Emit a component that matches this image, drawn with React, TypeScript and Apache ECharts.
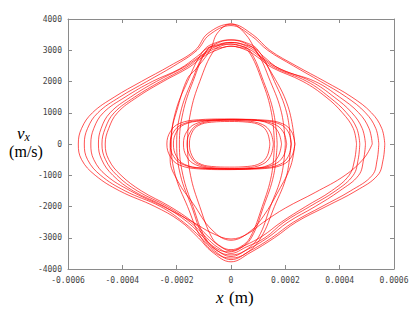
import React, { useEffect, useRef } from "react";
import * as echarts from "echarts";

// x positions in units of 1e-4 m, velocities in m/s
const xTicks = [-0.0006, -0.0004, -0.0002, 0, 0.0002, 0.0004, 0.0006];
const vTicks = [-4000, -3000, -2000, -1000, 0, 1000, 2000, 3000, 4000];

const diamond1 = [[5.66,0],[5.55,500],[5.17,1000],[4.45,1500],[3.46,2000],[2.4,2500],[1.43,3000],[0.8,3500],[0,3840],[-0.85,3540],[-1.32,3000],[-2.25,2500],[-3.3,2000],[-4.3,1500],[-5.1,1000],[-5.5,500],[-5.62,0],[-5.5,-500],[-5.0,-1000],[-4.1,-1500],[-2.8,-2000],[-1.9,-2450],[-1.2,-3000],[-0.7,-3450],[0,-3770],[0.7,-3480],[1.6,-3000],[2.4,-2500],[3.5,-2000],[4.6,-1500],[5.4,-1000],[5.6,-500],[5.66,0]];
const diamond2 = [[5.44,0],[5.33,500],[4.95,1000],[4.25,1500],[3.3,2000],[2.3,2500],[1.35,3000],[0.75,3460],[0,3790],[-0.8,3490],[-1.25,3000],[-2.1,2500],[-3.1,2000],[-4.1,1500],[-4.9,1000],[-5.28,500],[-5.4,0],[-5.28,-500],[-4.8,-1000],[-3.9,-1500],[-2.6,-2000],[-1.75,-2500],[-1.1,-3000],[-0.6,-3420],[0,-3700],[0.7,-3420],[1.5,-3000],[2.3,-2500],[3.35,-2000],[4.4,-1500],[5.2,-1000],[5.38,-500],[5.44,0]];
const diamond3 = [[5.2,0],[5.08,500],[4.7,1000],[4.0,1500],[3.1,2000],[1.8,2400],[1.2,2800],[0.8,3100],[0,3330],[-0.8,3100],[-1.25,2800],[-1.9,2400],[-2.9,2000],[-3.9,1500],[-4.7,1000],[-5.05,500],[-5.16,0],[-5.05,-500],[-4.6,-1000],[-3.7,-1500],[-2.5,-2000],[-1.4,-2500],[-0.7,-2850],[0,-3040],[0.6,-2880],[1.2,-2500],[2.0,-2050],[3.1,-1550],[4.2,-1000],[4.9,-450],[5.2,0]];
const diamond4 = [[4.95,0],[4.83,500],[4.45,1000],[3.8,1500],[2.95,2000],[1.7,2450],[1.1,2800],[0.7,3080],[0,3250],[-0.7,3060],[-1.15,2800],[-1.75,2450],[-2.75,2000],[-3.7,1500],[-4.45,1000],[-4.78,500],[-4.88,0],[-4.76,-500],[-4.35,-1000],[-3.6,-1500],[-2.45,-2000],[-1.6,-2500],[-1.0,-3000],[-0.55,-3380],[0,-3600],[0.6,-3380],[1.35,-3000],[2.1,-2500],[3.1,-2000],[4.0,-1500],[4.7,-1000],[4.88,-500],[4.95,0]];
const diamond5 = [[4.74,0],[4.63,500],[4.25,1000],[3.62,1500],[2.8,2000],[1.6,2450],[1.05,2800],[0.65,3040],[0,3200],[-0.65,3030],[-1.1,2800],[-1.65,2450],[-2.6,2000],[-3.55,1500],[-4.3,1000],[-4.63,500],[-4.75,0],[-4.62,-500],[-4.2,-1000],[-3.45,-1500],[-2.35,-2000],[-1.5,-2500],[-0.9,-3000],[-0.5,-3300],[0,-3500],[0.55,-3300],[1.25,-3000],[1.95,-2500],[2.9,-2000],[3.85,-1500],[4.5,-1000],[4.68,-500],[4.74,0]];
const diamond6 = [[4.62,0],[4.5,500],[4.1,1000],[3.5,1500],[2.65,2000],[1.5,2450],[0.98,2780],[0.6,2990],[0,3130],[-0.6,2980],[-1.05,2780],[-1.55,2450],[-2.5,2000],[-3.45,1500],[-4.18,1000],[-4.5,500],[-4.63,0],[-4.5,-500],[-4.05,-1000],[-3.3,-1500],[-2.25,-2000],[-1.4,-2500],[-0.85,-2950],[-0.45,-3250],[0,-3420],[0.5,-3250],[1.15,-2950],[1.85,-2500],[2.75,-2000],[3.7,-1500],[4.35,-1000],[4.55,-500],[4.62,0]];

const vertical0 = [[2.35,0],[2.1,1200],[1.43,2370],[0.95,2950],[0.5,3550],[0,3840],[-0.5,3550],[-0.77,3000],[-1.32,2370],[-1.6,2100],[-1.95,1200],[-2.2,300],[-2.24,-500],[-1.95,-1200],[-1.4,-1900],[-0.7,-2750],[0,-3080],[0.7,-2800],[1.2,-2300],[1.75,-1500],[2.2,-700],[2.35,0]];
const vertical1 = [[2.2,0],[2.05,1000],[1.6,2000],[1.0,3000],[0.5,3260],[0,3330],[-0.5,3260],[-1.0,3000],[-1.6,2000],[-2.05,1000],[-2.2,0],[-2.05,-1000],[-1.6,-2000],[-1.1,-3000],[-0.55,-3500],[0,-3650],[0.55,-3500],[1.1,-3000],[1.6,-2000],[2.05,-1000],[2.2,0]];
const vertical2 = [[2.0,0],[1.86,1000],[1.45,2000],[0.9,3000],[0.45,3190],[0,3250],[-0.45,3190],[-0.9,3000],[-1.45,2000],[-1.86,1000],[-2.0,0],[-1.86,-1000],[-1.45,-2000],[-1.0,-3000],[-0.5,-3420],[0,-3550],[0.5,-3420],[1.0,-3000],[1.45,-2000],[1.86,-1000],[2.0,0]];
const vertical3 = [[1.7,0],[1.57,1000],[1.2,2000],[0.68,3000],[0.28,3150],[-0.1,3200],[-0.48,3150],[-0.88,3000],[-1.4,2000],[-1.77,1000],[-1.9,0],[-1.77,-1000],[-1.4,-2000],[-0.95,-3000],[-0.52,-3350],[-0.1,-3450],[0.32,-3350],[0.75,-3000],[1.2,-2000],[1.57,-1000],[1.7,0]];
const vertical4 = [[1.6,0],[1.49,1000],[1.15,2000],[0.62,3000],[0.3,3090],[0,3130],[-0.3,3090],[-0.62,3000],[-1.15,2000],[-1.49,1000],[-1.6,0],[-1.49,-1000],[-1.15,-2000],[-0.7,-3000],[-0.35,-3290],[0,-3380],[0.35,-3290],[0.7,-3000],[1.15,-2000],[1.49,-1000],[1.6,0]];

const horizontal1 = [[1.86,0],[1.73,400],[1.40,656],[0.70,776],[-0.25,800],[-1.20,776],[-1.90,656],[-2.23,400],[-2.36,0],[-2.23,-410],[-1.90,-672],[-1.20,-795],[-0.25,-820],[0.70,-795],[1.40,-672],[1.73,-410],[1.86,0]];
const horizontal2 = [[2.05,0],[1.92,390],[1.58,640],[0.87,757],[-0.10,780],[-1.06,757],[-1.77,640],[-2.11,390],[-2.24,0],[-2.11,-400],[-1.77,-656],[-1.06,-776],[-0.10,-800],[0.87,-776],[1.58,-656],[1.92,-400],[2.05,0]];
const horizontal3 = [[1.56,0],[1.45,380],[1.16,623],[0.55,737],[-0.28,760],[-1.11,737],[-1.72,623],[-2.01,380],[-2.12,0],[-2.01,-395],[-1.72,-648],[-1.11,-766],[-0.28,-790],[0.55,-766],[1.16,-648],[1.45,-395],[1.56,0]];
const horizontal4 = [[2.35,0],[2.23,395],[1.90,648],[1.22,766],[0.30,790],[-0.62,766],[-1.30,648],[-1.63,395],[-1.75,0],[-1.63,-405],[-1.30,-664],[-0.62,-786],[0.30,-810],[1.22,-786],[1.90,-664],[2.23,-405],[2.35,0]];
const horizontal5 = [[2.23,0],[2.11,385],[1.81,631],[1.17,747],[0.31,770],[-0.56,747],[-1.20,631],[-1.50,385],[-1.62,0],[-1.50,-395],[-1.20,-648],[-0.56,-766],[0.31,-790],[1.17,-766],[1.81,-648],[2.11,-395],[2.23,0]];
const horizontal6 = [[1.43,0],[1.34,360],[1.10,590],[0.62,698],[-0.05,720],[-0.72,698],[-1.20,590],[-1.44,360],[-1.53,0],[-1.44,-370],[-1.20,-607],[-0.72,-718],[-0.05,-740],[0.62,-718],[1.10,-607],[1.34,-370],[1.43,0]];

const loops = [
  diamond1, diamond2, diamond3, diamond4, diamond5, diamond6,
  vertical0, vertical1, vertical2, vertical3, vertical4,
  horizontal1, horizontal2, horizontal3, horizontal4, horizontal5, horizontal6,
];

const X_UNIT = 1e-4;

export default function App() {
  const ref = useRef<HTMLDivElement>(null);
  useEffect(() => {
    if (!ref.current) return;
    const chart = echarts.init(ref.current, null, { renderer: "svg" });
    const axisLine = { show: true, onZero: false, lineStyle: { color: "#8a8a8a", width: 1 } };
    const tick = { show: true, inside: true, length: 4, lineStyle: { color: "#8a8a8a" } };
    const labelFont = { fontFamily: "DejaVu Sans Mono", fontSize: 8, color: "#444" };
    const xBase = {
      type: "value" as const, min: xTicks[0], max: xTicks[xTicks.length - 1], interval: 0.0002,
      axisLine, axisTick: tick, splitLine: { show: false },
    };
    const yBase = {
      type: "value" as const, min: vTicks[0], max: vTicks[vTicks.length - 1], interval: 1000,
      axisLine, axisTick: tick, splitLine: { show: false },
    };
    chart.setOption({
      animation: false,
      grid: { left: 68, right: 21, top: 19, bottom: 40 },
      xAxis: [
        { ...xBase, position: "bottom",
          axisLabel: { ...labelFont, margin: 7, formatter: (v: number) => (Math.abs(v) < 1e-12 ? "0" : v.toFixed(4)) } },
        { ...xBase, position: "top", axisLabel: { show: false } },
      ],
      yAxis: [
        { ...yBase, position: "left", axisLabel: { ...labelFont, margin: 6, formatter: (v: number) => String(Math.round(v)) } },
        { ...yBase, position: "right", axisLabel: { show: false } },
      ],
      series: loops.map((pts) => ({
        type: "line",
        xAxisIndex: 0,
        yAxisIndex: 0,
        data: pts.map(([x, v]) => [x * X_UNIT, v]),
        smooth: 0.4,
        symbol: "none",
        silent: true,
        lineStyle: { color: "#ff0000", width: 0.8, opacity: 0.85 },
      })),
      graphic: [
        { type: "text", x: 17, y: 133, style: { text: "v", fontFamily: "Liberation Serif", fontStyle: "italic", fontSize: 17, fill: "#000", verticalAlign: "middle" } },
        { type: "text", x: 24.5, y: 137, style: { text: "x", fontFamily: "Liberation Serif", fontStyle: "italic", fontSize: 12, fill: "#000", verticalAlign: "middle" } },
        { type: "text", x: 26, y: 151.5, style: { text: "(m/s)", fontFamily: "Liberation Serif", fontSize: 16, fill: "#000", align: "center", verticalAlign: "middle" } },
        { type: "text", x: 216, y: 297, style: { text: "x", fontFamily: "Liberation Serif", fontStyle: "italic", fontSize: 17, fill: "#000", verticalAlign: "middle" } },
        { type: "text", x: 229, y: 297, style: { text: "(m)", fontFamily: "Liberation Serif", fontSize: 17, fill: "#000", verticalAlign: "middle" } },
      ],
    });
    return () => chart.dispose();
  }, []);
  return <div ref={ref} style={{ position: "absolute", left: 0, top: 0, width: 415, height: 309 }} />;
}
